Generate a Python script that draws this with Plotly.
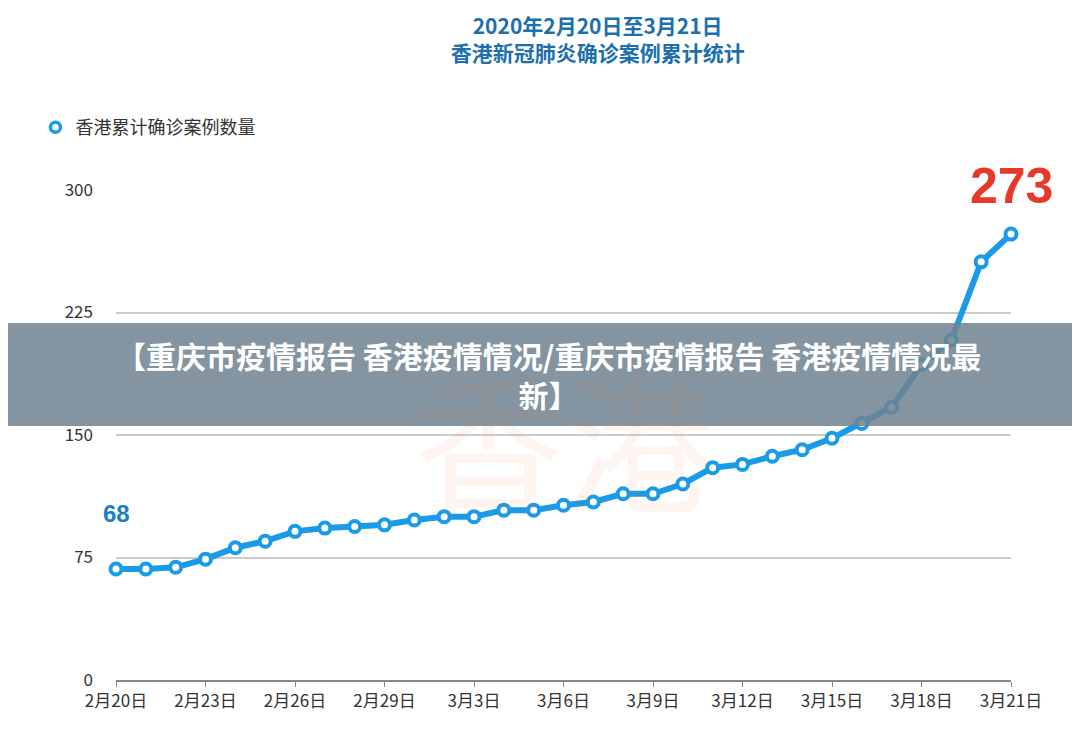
import plotly.graph_objects as go

dates = ["2月20日", "2月21日", "2月22日", "2月23日", "2月24日", "2月25日", "2月26日", "2月27日",
         "2月28日", "2月29日", "3月1日", "3月2日", "3月3日", "3月4日", "3月5日", "3月6日",
         "3月7日", "3月8日", "3月9日", "3月10日", "3月11日", "3月12日", "3月13日", "3月14日",
         "3月15日", "3月16日", "3月17日", "3月18日", "3月19日", "3月20日", "3月21日"]
cases = [68, 68, 69, 74, 81, 85, 91, 93, 94, 95, 98, 100, 100, 104, 104, 107,
         109, 114, 114, 120, 130, 132, 137, 141, 148, 157, 167, 193, 208, 256, 273]
x_idx = list(range(len(dates)))

fig = go.Figure()
fig.add_trace(go.Scatter(
    x=x_idx, y=cases, mode="lines+markers", name="香港累计确诊案例数量", showlegend=False,
    line=dict(color="#1a9be8", width=6),
    marker=dict(size=11, color="white", line=dict(color="#1a9be8", width=4)),
    cliponaxis=False,
))
# legend entry: marker only
fig.add_trace(go.Scatter(
    x=[None], y=[None], mode="markers", name="香港累计确诊案例数量",
    marker=dict(size=10, color="white", line=dict(color="#1a9be8", width=3.5)),
))

# faint watermark
fig.add_annotation(x=0.5, y=0.5, xref="paper", yref="paper", text="香港", showarrow=False,
                   font=dict(size=150, color="rgba(240,120,60,0.07)", family="Noto Sans CJK SC"))

fig.add_annotation(x=0, y=cases[0], text="<b>68</b>", showarrow=False, yshift=55,
                   font=dict(size=24, color="#1a7fc8", family="Liberation Sans"))
fig.add_annotation(x=len(cases) - 1, y=cases[-1], text="<b>273</b>", showarrow=False, yshift=48,
                   font=dict(size=50, color="#e8382a", family="Liberation Sans"))

# overlay banner
fig.add_shape(type="rect", xref="paper", yref="paper", x0=-0.2, x1=1.2, y0=(734 - 62 - 418) / 490,
              y1=(734 - 62 - 315) / 490, fillcolor="rgba(110,130,145,0.85)", line=dict(width=0), layer="above")
fig.add_annotation(x=0.5 - (108 - 77) / 2 / 895, y=(734 - 62 - 366) / 490, xref="paper", yref="paper",
                   text="<b>【重庆市疫情报告 香港疫情情况/重庆市疫情报告 香港疫情情况最<br>新】</b>",
                   showarrow=False, font=dict(size=30, color="white", family="Noto Sans CJK SC"))

fig.update_layout(
    width=1080, height=734,
    paper_bgcolor="white", plot_bgcolor="white",
    margin=dict(l=108, r=77, t=182, b=62, autoexpand=False),
    font=dict(family="Noto Sans CJK SC", color="#333"),
    title=dict(text="<b>2020年2月20日至3月21日</b><br><b>香港新冠肺炎确诊案例累计统计</b>",
               x=0.546, xanchor="center", y=0.965, yanchor="top",
               font=dict(size=21, color="#1d6fad")),
    legend=dict(x=-0.09, y=1.165, xanchor="left", yanchor="top", font=dict(size=18, color="#333")),
    showlegend=True,
)
fig.update_xaxes(range=[0, 30], tickvals=x_idx[::3], ticktext=dates[::3], showgrid=False,
                 showline=True, linecolor="#888", linewidth=1.5, ticks="outside", ticklen=5,
                 tickcolor="#888", tickfont=dict(size=17, color="#333"), zeroline=False)
fig.update_yaxes(range=[0, 300], tickvals=[0, 75, 150, 225, 300], showgrid=True, gridcolor="#ccc",
                 gridwidth=1.5, zeroline=False, ticks="", ticklabelstandoff=22,
                 tickfont=dict(size=17, color="#333"))

fig.write_html("out.html")
